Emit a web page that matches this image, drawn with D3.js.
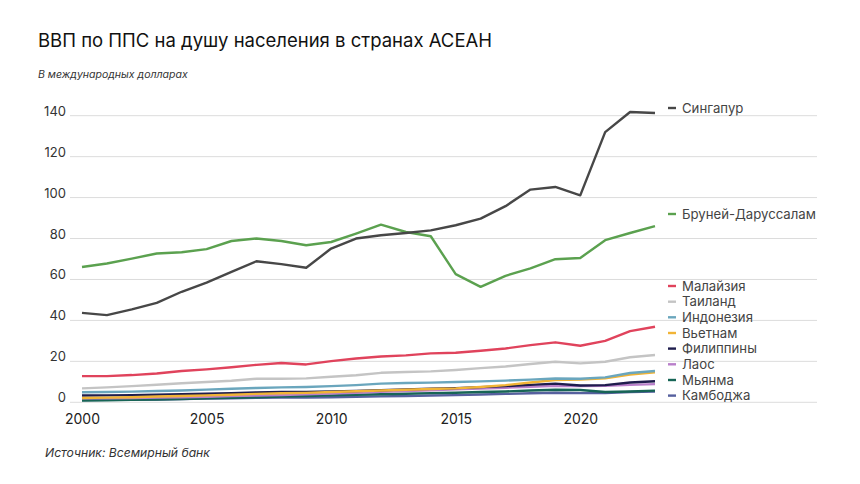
<!DOCTYPE html>
<html><head><meta charset="utf-8">
<script src="https://cdn.jsdelivr.net/npm/d3@7"></script>
<style>
html,body{margin:0;padding:0;background:#fff;}
svg{display:block;font-family:Inter,"Noto Sans",sans-serif;}
</style></head>
<body><svg id="c" width="860" height="484"></svg>
<script>
const years = d3.range(2000, 2024);
const yTicks = [0, 20, 40, 60, 80, 100, 120, 140];
const xTicks = [2000, 2005, 2010, 2015, 2020];
const countries = ["Сингапур","Бруней-Даруссалам","Малайзия","Таиланд","Индонезия","Вьетнам","Филиппины","Лаос","Мьянма","Камбоджа"];
const colors = ["#474747","#5ba14f","#e0435c","#c4c4c4","#6aa6bd","#f1b436","#1f1d4d","#b97fca","#176556","#56609e"];
const singapore = [43.7,42.6,45.4,48.6,54.0,58.5,63.7,68.9,67.5,65.7,75.1,80.0,81.6,82.7,84.0,86.5,89.7,95.8,103.9,105.2,101.1,132.0,141.8,141.3];
const brunei    = [66.1,67.8,70.2,72.7,73.3,74.8,78.8,80.0,78.8,76.7,78.3,82.4,86.8,83.2,81.1,62.6,56.4,61.8,65.4,69.9,70.5,79.2,82.7,86.1];
const malaysia  = [12.8,12.8,13.3,14.1,15.3,16.1,17.1,18.3,19.2,18.5,20.1,21.4,22.4,22.9,23.9,24.2,25.2,26.3,27.9,29.3,27.6,30.0,34.8,36.9];
const thailand  = [6.8,7.3,7.9,8.6,9.3,9.9,10.5,11.5,11.5,11.7,12.5,13.2,14.4,14.8,15.1,15.8,16.7,17.5,18.7,19.8,19.0,19.8,22.0,23.1];
const indonesia = [4.9,5.0,5.2,5.5,5.8,6.2,6.6,7.0,7.3,7.5,7.9,8.4,9.1,9.4,9.6,9.9,10.2,10.6,11.1,11.6,11.5,12.2,14.3,15.3];
const vietnam   = [2.1,2.3,2.5,2.8,3.1,3.4,3.7,4.1,4.4,4.6,5.0,5.4,5.8,6.1,6.5,6.8,7.5,8.4,9.7,10.9,11.1,11.7,13.6,14.6];
const philippines=[3.3,3.4,3.5,3.7,4.0,4.2,4.5,4.8,5.0,5.0,5.3,5.5,5.9,6.3,6.6,6.9,7.4,7.9,8.5,9.1,8.2,8.4,9.7,10.3];
const laos      = [1.9,2.0,2.1,2.3,2.5,2.7,3.0,3.3,3.6,3.9,4.3,4.7,5.1,5.5,5.9,6.3,6.7,7.1,7.6,8.0,7.9,8.1,8.5,8.9];
const myanmar   = [0.9,1.0,1.2,1.4,1.6,1.9,2.2,2.5,2.8,3.1,3.4,3.7,3.9,4.2,4.5,4.7,5.0,5.3,5.8,6.1,6.0,5.0,5.3,5.7];
const cambodia  = [1.1,1.2,1.3,1.4,1.6,1.8,2.0,2.2,2.3,2.3,2.5,2.7,2.9,3.1,3.3,3.5,3.8,4.1,4.4,4.7,4.5,4.5,5.0,5.3];
const seriesVals = [singapore,brunei,malaysia,thailand,indonesia,vietnam,philippines,laos,myanmar,cambodia];

const svg = d3.select("#c");
const x = d3.scaleLinear().domain([2000, 2023]).range([82, 655]);
const y = d3.scaleLinear().domain([0, 140]).range([402.3, 115.7]);

function fitText(sel, target) {
  const w = sel.node().getComputedTextLength();
  const fs = parseFloat(sel.attr("font-size"));
  sel.attr("font-size", (fs * target / w).toFixed(2));
}

// title etc
const title = svg.append("text").attr("x", 38).attr("y", 47).attr("font-size", 21)
  .attr("fill", "#111").text("ВВП по ППС на душу населения в странах АСЕАН");
fitText(title, 454);
const sub = svg.append("text").attr("x", 38).attr("y", 78).attr("font-size", 12)
  .attr("font-style", "italic").attr("fill", "#333").text("В международных долларах");
fitText(sub, 150);
const src = svg.append("text").attr("x", 45).attr("y", 457).attr("font-size", 12)
  .attr("font-style", "italic").attr("fill", "#333").text("Источник: Всемирный банк");
fitText(src, 165);

// grid
const yAxis = d3.axisLeft(y).tickValues(yTicks).tickSize(0).tickPadding(0).tickFormat(d3.format("d"));
const gy = svg.append("g").attr("transform", "translate(66,0)").call(yAxis);
gy.select(".domain").remove();
gy.selectAll("text").attr("font-size", 13).attr("fill", "#333").attr("dy", "-0.5")
  .attr("font-family", "Inter, sans-serif").style("dominant-baseline", "auto");
gy.selectAll(".tick line").remove();
svg.append("g").selectAll("line").data(yTicks).join("line")
  .attr("x1", 70).attr("x2", 817).attr("y1", d => y(d)).attr("y2", d => y(d))
  .attr("stroke", "#dcdcdc").attr("stroke-width", 1);

const xAxis = d3.axisBottom(x).tickValues(xTicks).tickSize(0).tickPadding(0).tickFormat(d3.format("d"));
const gx = svg.append("g").attr("transform", "translate(0,424)").call(xAxis);
gx.select(".domain").remove();
gx.selectAll("text").attr("font-size", 14).attr("fill", "#222").attr("dy", 0)
  .attr("font-family", "Inter, sans-serif");

// lines
const line = d3.line().x((d, i) => x(years[i])).y(d => y(d));
const order = d3.range(countries.length).reverse();
svg.append("g").selectAll("path").data(order).join("path")
  .attr("d", i => line(seriesVals[i])).attr("fill", "none")
  .attr("stroke", i => colors[i]).attr("stroke-width", 2.4)
  .attr("stroke-linejoin", "round");

// legend
const legY = [108, 214, 286, 301.7, 317.3, 333, 348.6, 364.3, 380, 395.6];
const lg = svg.append("g").selectAll("g").data(countries).join("g")
  .attr("transform", (d, i) => `translate(0,${legY[i]})`);
lg.append("line").attr("x1", 668).attr("x2", 676).attr("stroke", (d, i) => colors[i]).attr("stroke-width", 2.4);
const lt = lg.append("text").attr("x", 682).attr("dy", "0.35em").attr("font-size", 13)
  .attr("fill", "#444").text(d => d);
const bw = lt.filter((d, i) => i === 1).node().getComputedTextLength();
lt.attr("font-size", (13 * 134 / bw).toFixed(2));
</script></body></html>
